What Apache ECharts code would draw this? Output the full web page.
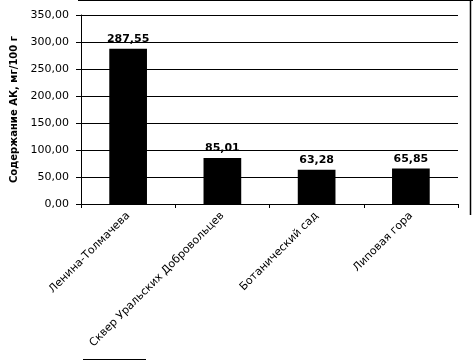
<!DOCTYPE html>
<html>
<head>
<meta charset="utf-8">
<script src="https://cdn.jsdelivr.net/npm/echarts@6/dist/echarts.min.js"></script>
<style>
html, body { margin: 0; padding: 0; background: #fff; }
#chart { width: 473px; height: 360px; }
</style>
</head>
<body>
<div id="chart"></div>
<script>
var categories = ['Ленина-Толмачева', 'Сквер Уральских Добровольцев', 'Ботанический сад', 'Липовая гора'];
var values = [287.55, 85.01, 63.28, 65.85];
var yTitle = 'Содержание АК, мг/100 г';

function fmt(v) {
	return v.toFixed(2).replace('.', ',');
}

var myChart = echarts.init(document.getElementById('chart'));
var option = {
	backgroundColor: '#ffffff',
	animation: false,
	grid: {
		left: 81,
		right: 15,
		top: 15,
		bottom: 156
	},
	xAxis: {
		type: 'category',
		data: categories,
		axisLine: { lineStyle: { color: '#000', width: 1 } },
		axisTick: { show: true, length: 4, lineStyle: { color: '#000' } },
		axisLabel: {
			interval: 0,
			rotate: 45,
			color: '#000',
			fontFamily: 'DejaVu Sans',
			fontSize: 11,
			margin: 10
		}
	},
	yAxis: {
		type: 'value',
		min: 0,
		max: 350,
		interval: 50,
		name: yTitle,
		nameLocation: 'middle',
		nameGap: 58,
		nameTextStyle: {
			color: '#000',
			fontFamily: 'DejaVu Sans',
			fontWeight: 'bold',
			fontSize: 10
		},
		axisLine: { show: true, lineStyle: { color: '#000' } },
		axisTick: { show: true, length: 5, lineStyle: { color: '#000' } },
		axisLabel: {
			color: '#000',
			fontFamily: 'DejaVu Sans',
			fontSize: 11,
			margin: 12,
			formatter: function(v) { return fmt(v); }
		},
		splitLine: { show: true, lineStyle: { color: '#000', width: 1 } }
	},
	series: [{
		type: 'bar',
		data: values,
		barWidth: '40%',
		itemStyle: { color: '#000' },
		label: {
			show: true,
			position: 'top',
			color: '#000',
			fontFamily: 'DejaVu Sans',
			fontWeight: 'bold',
			fontSize: 11,
			distance: 4,
			formatter: function(p) { return fmt(p.value); }
		}
	}],
	graphic: [
		{ type: 'line', shape: { x1: 78, y1: 0.5, x2: 473, y2: 0.5 }, style: { stroke: '#000', lineWidth: 1 } },
		{ type: 'line', shape: { x1: 470.5, y1: 0, x2: 470.5, y2: 215 }, style: { stroke: '#000', lineWidth: 1.5 } },
		{ type: 'line', shape: { x1: 83, y1: 359.5, x2: 146, y2: 359.5 }, style: { stroke: '#000', lineWidth: 1 } }
	]
};
myChart.setOption(option, true);
</script>
</body>
</html>
